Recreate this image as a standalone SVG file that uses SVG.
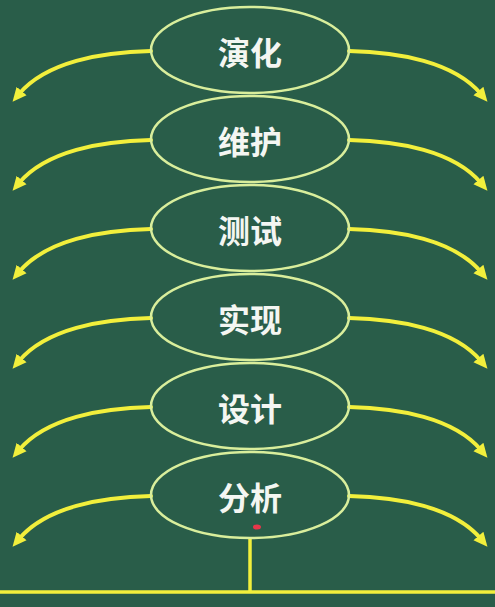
<svg xmlns="http://www.w3.org/2000/svg" width="495" height="607" viewBox="0 0 495 607">
<style>
.bg{fill:#295d49}
.node ellipse{fill:none;stroke:#d9ee9c;stroke-width:2.5}
.node text{font-family:"Noto Sans CJK SC","Noto Sans",sans-serif;font-size:32px;font-weight:bold;fill:#f4f6f2;text-anchor:middle;dominant-baseline:central}
.arr{fill:none;stroke:#f2ef3c;stroke-width:4;stroke-linecap:round;marker-end:url(#ah)}
.line{fill:none;stroke:#f2ef3c;stroke-width:3.5}
</style>
<defs>
<marker id="ah" markerUnits="userSpaceOnUse" markerWidth="16" markerHeight="16" viewBox="0 0 16 16" refX="4" refY="8" orient="auto">
<path d="M0,1.5 L14,8 L0,14.5 z" fill="#f2ef3c"/>
</marker>
</defs>
<rect class="bg" x="0" y="0" width="495" height="607"/>
<g id="connectors">
<path class="arr" d="M151,51 C101,52 46,62 19,94"/>
<path class="arr" d="M349,51 C399,52 454,62 481,94"/>
<path class="arr" d="M151,140 C101,141 46,151 19,183"/>
<path class="arr" d="M349,140 C399,141 454,151 481,183"/>
<path class="arr" d="M151,229 C101,230 46,240 19,272"/>
<path class="arr" d="M349,229 C399,230 454,240 481,272"/>
<path class="arr" d="M151,318 C101,319 46,329 19,361"/>
<path class="arr" d="M349,318 C399,319 454,329 481,361"/>
<path class="arr" d="M151,407 C101,408 46,418 19,450"/>
<path class="arr" d="M349,407 C399,408 454,418 481,450"/>
<path class="arr" d="M151,496 C101,497 46,507 19,539"/>
<path class="arr" d="M349,496 C399,497 454,507 481,539"/>
<path class="line" d="M250,538 V592"/>
<path class="line" d="M0,592 H495"/>
</g>
<g id="node-yanhua" class="node"><ellipse cx="250" cy="50" rx="99" ry="43"/><text x="250" y="51">演化</text></g>
<g id="node-weihu" class="node"><ellipse cx="250" cy="139" rx="99" ry="43"/><text x="250" y="140">维护</text></g>
<g id="node-ceshi" class="node"><ellipse cx="250" cy="228" rx="99" ry="43"/><text x="250" y="229">测试</text></g>
<g id="node-shixian" class="node"><ellipse cx="250" cy="317" rx="99" ry="43"/><text x="250" y="318">实现</text></g>
<g id="node-sheji" class="node"><ellipse cx="250" cy="406" rx="99" ry="43"/><text x="250" y="407">设计</text></g>
<g id="node-fenxi" class="node"><ellipse cx="250" cy="495" rx="99" ry="43"/><text x="250" y="496">分析</text></g>
<ellipse cx="257" cy="527" rx="4" ry="2.5" fill="#e8364a"/>
</svg>
